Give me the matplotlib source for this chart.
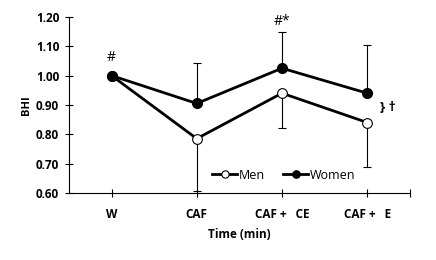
import matplotlib
matplotlib.use("Agg")
import matplotlib.pyplot as plt
import numpy as np

plt.rcParams['font.family'] = ['Open Sans', 'DejaVu Sans']

# data
times = ["W", "CAF", "CAF +   CE", "CAF +   E"]
men = [1.00, 0.785, 0.94, 0.84]
women = [1.00, 0.905, 1.025, 0.94]
men_err_low = [0.0, 0.18, 0.12, 0.153]
women_err_up = [0.0, 0.137, 0.125, 0.165]

x = np.arange(len(times)) + 0.5

fig = plt.figure(figsize=(4.36, 2.6), dpi=100)
ax = fig.add_axes([0.158, 0.258, 0.782, 0.677])

# error bars (one-sided)
ax.errorbar(x, men, yerr=[men_err_low, np.zeros(4)], fmt='none',
            ecolor='black', elinewidth=0.8, capsize=3, capthick=0.8, zorder=1)
ax.errorbar(x, women, yerr=[np.zeros(4), women_err_up], fmt='none',
            ecolor='black', elinewidth=0.8, capsize=3, capthick=0.8, zorder=1)

ax.plot(x, men, '-o', color='black', lw=2, markersize=7,
        markerfacecolor='white', markeredgecolor='black', markeredgewidth=0.8,
        label='Men', zorder=3)
ax.plot(x, women, '-o', color='black', lw=2, markersize=7,
        markerfacecolor='black', label='Women', zorder=3)

ax.set_xlim(0, 4)
ax.set_ylim(0.6, 1.2)
ax.set_xticks(list(x) + [4])
ax.set_xticklabels(times + [""], fontsize=8.5, fontweight='bold')
ax.set_yticks(np.arange(0.6, 1.21, 0.1))
ax.set_yticklabels(["%.2f" % v for v in np.arange(0.6, 1.21, 0.1)],
                   fontsize=8.5, fontweight='bold')
ax.tick_params(direction='inout', length=6, width=0.8, pad=4)
ax.tick_params(axis='x', pad=8)

for s in ['top', 'right']:
    ax.spines[s].set_visible(False)

ax.set_ylabel("BHI", fontsize=8, fontweight='bold', labelpad=3)
ax.set_xlabel("Time (min)", fontsize=8.5, fontweight='bold', labelpad=5)

ax.text(x[0], 1.035, "#", ha='center', va='bottom', fontsize=10)
ax.text(x[2], 1.158, "#*", ha='center', va='bottom', fontsize=10)
ax.text(x[3] + 0.15, 0.89, "} \u2020", ha='left', va='center', fontsize=9.5,
        fontweight='bold')

ax.legend(loc='lower center', bbox_to_anchor=(0.63, 0.0), ncol=2, frameon=False,
          fontsize=9, handlelength=2.0, handletextpad=0.1, columnspacing=1.5,
          markerscale=0.75)

fig.savefig("out.png", dpi=100)
